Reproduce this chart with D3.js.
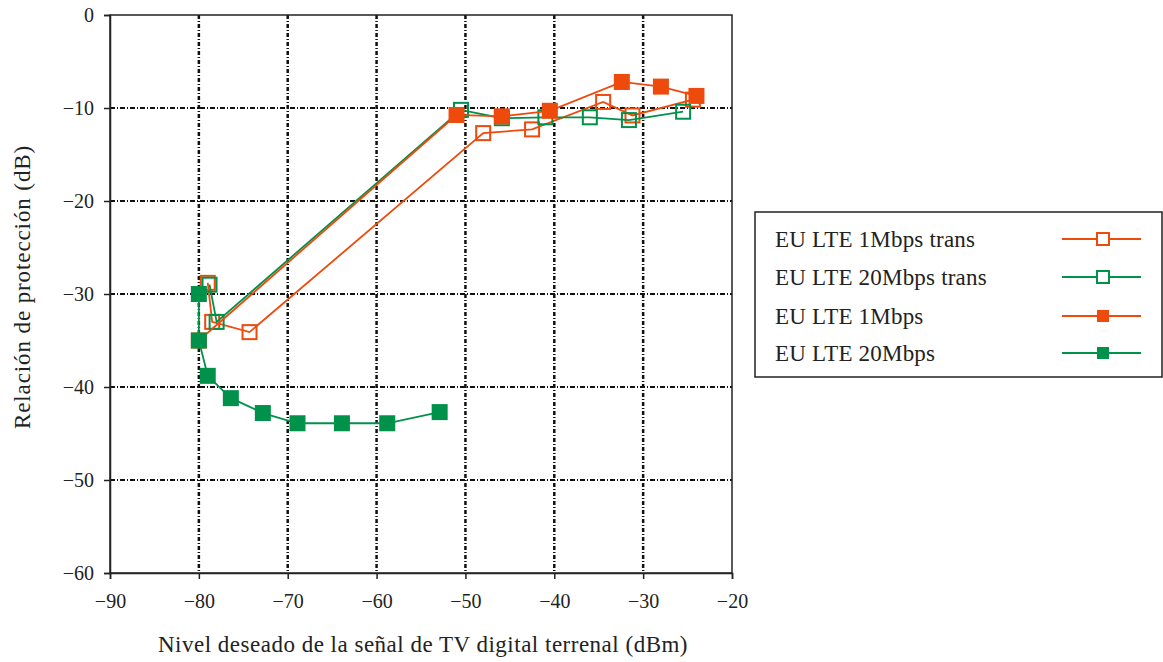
<!DOCTYPE html>
<html>
<head>
<meta charset="utf-8">
<script src="https://cdn.jsdelivr.net/npm/d3@7"></script>
<style>
  body { margin: 0; background: #fff; }
  text { font-family: "Liberation Serif", "Times New Roman", serif; fill: #222; }
</style>
</head>
<body>
<script>
// series (x = dBm, y = dB)
var names = ["EU LTE 1Mbps trans", "EU LTE 20Mbps trans", "EU LTE 1Mbps", "EU LTE 20Mbps"];

var trans1X = [-79.0, -78.5, -74.3, -48.0, -42.5, -34.5, -31.2, -24.4];
var trans1Y = [-28.8, -33.0, -34.1, -12.7, -12.3, -9.35, -10.8, -9.1];

var trans20X = [-78.8, -78.0, -50.5, -45.9, -41.0, -36.0, -31.6, -25.5];
var trans20Y = [-29.0, -33.0, -10.2, -11.1, -11.0, -11.0, -11.3, -10.4];

var lte1X = [-80.0, -51.0, -45.9, -40.5, -32.4, -28.0, -24.0];
var lte1Y = [-35.0, -10.75, -10.9, -10.3, -7.2, -7.7, -8.7];

var lte20X = [-80.0, -80.0, -79.0, -76.4, -72.8, -68.9, -63.9, -58.8, -52.9];
var lte20Y = [-30.0, -35.0, -38.8, -41.2, -42.8, -43.9, -43.9, -43.9, -42.7];

var xTicks = [-90, -80, -70, -60, -50, -40, -30, -20];
var yTicks = [0, -10, -20, -30, -40, -50, -60];

var orange = "#ee4a0c";
var green = "#00914a";

var w = 1163, h = 662;
var plotLeft = 110, plotRight = 732, plotTop = 15, plotBottom = 573;

var svg = d3.select("body").append("svg")
    .attr("width", w)
    .attr("height", h);

var x = d3.scaleLinear().domain([-90, -20]).range([plotLeft, plotRight]);
var y = d3.scaleLinear().domain([-60, 0]).range([plotBottom, plotTop]);

// grid lines (dotted black)
svg.append("g").selectAll("line")
    .data(xTicks.slice(1, -1))
    .enter().append("line")
    .attr("x1", function(d) { return x(d); })
    .attr("x2", function(d) { return x(d); })
    .attr("y1", plotTop)
    .attr("y2", plotBottom)
    .attr("stroke", "#111")
    .attr("stroke-width", 2.5)
    .attr("stroke-dasharray", "4,2,1,2");

svg.append("g").selectAll("line")
    .data(yTicks.slice(1, -1))
    .enter().append("line")
    .attr("x1", plotLeft)
    .attr("x2", plotRight)
    .attr("y1", function(d) { return y(d); })
    .attr("y2", function(d) { return y(d); })
    .attr("stroke", "#111")
    .attr("stroke-width", 2)
    .attr("stroke-dasharray", "5,2,1,2");

// frame
svg.append("rect")
    .attr("x", plotLeft).attr("y", plotTop)
    .attr("width", plotRight - plotLeft).attr("height", plotBottom - plotTop)
    .attr("fill", "none")
    .attr("stroke", "#222")
    .attr("stroke-width", 1.5);

// axes
var xAxis = d3.axisBottom(x).tickValues(xTicks).tickSize(6).tickPadding(15);
var yAxis = d3.axisLeft(y).tickValues(yTicks).tickSize(6).tickPadding(10);

var gx = svg.append("g")
    .attr("transform", "translate(0," + plotBottom + ")")
    .call(xAxis);
var gy = svg.append("g")
    .attr("transform", "translate(" + plotLeft + ",0)")
    .call(yAxis);

[gx, gy].forEach(function(g) {
    g.select(".domain").attr("stroke", "#222").attr("stroke-width", 1.5);
    g.selectAll(".tick line").attr("stroke", "#222").attr("stroke-width", 1.5);
    g.selectAll(".tick text")
        .attr("font-size", 20)
        .attr("font-family", "Liberation Serif, Times New Roman, serif")
        .attr("fill", "#222");
});

// axis titles
svg.append("text")
    .attr("x", 423)
    .attr("y", 652)
    .attr("text-anchor", "middle")
    .attr("font-size", 23)
    .attr("letter-spacing", 0.5)
    .text("Nivel deseado de la señal de TV digital terrenal (dBm)");

svg.append("text")
    .attr("transform", "translate(30,287) rotate(-90)")
    .attr("text-anchor", "middle")
    .attr("font-size", 23)
    .attr("letter-spacing", 0.9)
    .text("Relación de protección (dB)");

// series
var series = [
    { xs: trans1X, ys: trans1Y, color: orange, filled: false },
    { xs: trans20X, ys: trans20Y, color: green, filled: false },
    { xs: lte1X, ys: lte1Y, color: orange, filled: true },
    { xs: lte20X, ys: lte20Y, color: green, filled: true }
];

var line = d3.line()
    .x(function(d) { return x(d[0]); })
    .y(function(d) { return y(d[1]); });

series.forEach(function(s) {
    var pts = s.xs.map(function(v, i) { return [v, s.ys[i]]; });
    var g = svg.append("g");
    g.append("path")
        .datum(pts)
        .attr("d", line)
        .attr("fill", "none")
        .attr("stroke", s.color)
        .attr("stroke-width", 1.8);
    var size = s.filled ? 16 : 14;
    g.selectAll("rect")
        .data(pts)
        .enter().append("rect")
        .attr("x", function(d) { return x(d[0]) - size / 2; })
        .attr("y", function(d) { return y(d[1]) - size / 2; })
        .attr("width", size)
        .attr("height", size)
        .attr("fill", s.filled ? s.color : "none")
        .attr("stroke", s.filled ? "none" : s.color)
        .attr("stroke-width", 2);
});

// legend
var lg = svg.append("g");
lg.append("rect")
    .attr("x", 755).attr("y", 212)
    .attr("width", 407).attr("height", 165)
    .attr("fill", "#fff")
    .attr("stroke", "#222")
    .attr("stroke-width", 1.5);

var legendY = [239, 277, 316, 353];
series.forEach(function(s, i) {
    var ly = legendY[i];
    lg.append("text")
        .attr("x", 775)
        .attr("y", ly)
        .attr("dy", "0.35em")
        .attr("font-size", 23)
        .attr("letter-spacing", 0.2)
        .text(names[i]);
    lg.append("line")
        .attr("x1", 1062).attr("x2", 1141)
        .attr("y1", ly).attr("y2", ly)
        .attr("stroke", s.color)
        .attr("stroke-width", 1.8);
    var size = 12;
    lg.append("rect")
        .attr("x", 1103 - size / 2)
        .attr("y", ly - size / 2)
        .attr("width", size)
        .attr("height", size)
        .attr("fill", s.filled ? s.color : "#fff")
        .attr("stroke", s.filled ? "none" : s.color)
        .attr("stroke-width", 2);
});
</script>
</body>
</html>
